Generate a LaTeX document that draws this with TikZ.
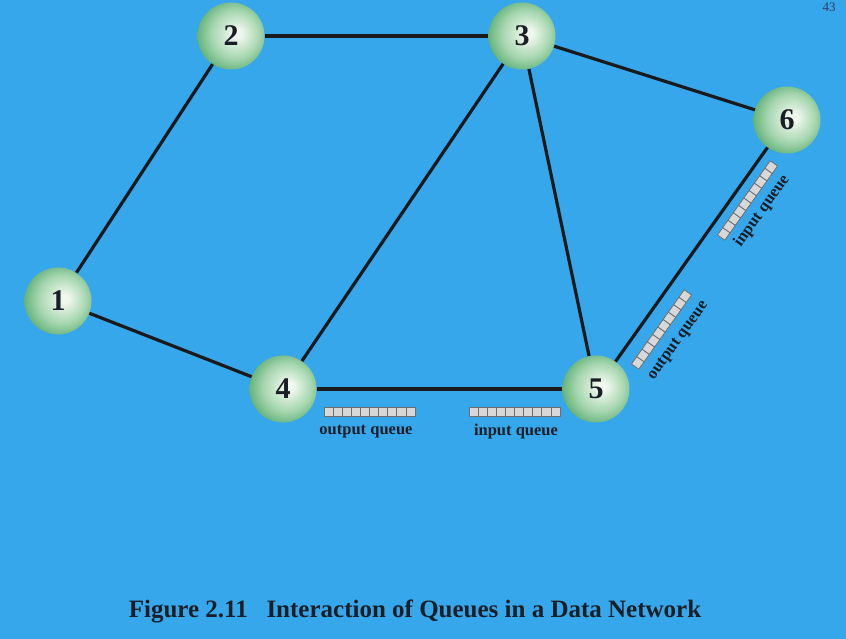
\documentclass[tikz,border=0pt]{standalone}
\usepackage{fontspec}
\setmainfont{Liberation Serif}
\definecolor{bgblue}{RGB}{55,167,236}
\definecolor{edgecol}{RGB}{26,26,28}
\definecolor{txtcol}{RGB}{26,30,38}
\definecolor{sphc}{RGB}{240,248,238}
\definecolor{sphm}{RGB}{165,214,175}
\definecolor{sphe}{RGB}{86,170,110}
\definecolor{cellfill}{RGB}{216,216,216}
\definecolor{celldraw}{RGB}{110,110,110}
\definecolor{pgnum}{RGB}{40,60,100}
\pgfdeclareradialshading{sphere}{\pgfqpoint{5bp}{2bp}}{color(0bp)=(sphc); color(3bp)=(sphc); color(18bp)=(sphm); color(30bp)=(sphe); color(50bp)=(sphe)}
\begin{document}
\begin{tikzpicture}[x=1pt,y=1pt,
  netnode/.style={circle, minimum size=67pt, inner sep=0pt, shading=sphere, text=txtcol,
    font=\fontsize{30}{30}\selectfont\bfseries},
  link/.style={draw=edgecol, line width=3.2pt},
  qcell/.style={fill=cellfill, draw=celldraw, line width=0.8pt},
  qlabel/.style={text=txtcol, font=\fontsize{16.5}{16.5}\selectfont\bfseries, inner sep=0pt},
  queue/.pic={\foreach \i in {0,...,9} {\draw[qcell] (\i*9.1-45.5,-4.5) rectangle ++(9.1,9);}}
]
\useasboundingbox (0,0) rectangle (846,639);
\fill[bgblue] (0,0) rectangle (846,639);
\node[netnode] (n1) at (58,338) {1};
\node[netnode] (n2) at (231,603) {2};
\node[netnode] (n3) at (522,603) {3};
\node[netnode] (n4) at (283,250) {4};
\node[netnode] (n5) at (596,250) {5};
\node[netnode] (n6) at (787,519) {6};
\draw[link] (n1) -- (n2);
\draw[link] (n2) -- (n3);
\draw[link] (n3) -- (n6);
\draw[link] (n3) -- (n4);
\draw[link] (n3) -- (n5);
\draw[link] (n1) -- (n4);
\draw[link] (n4) -- (n5);
\draw[link] (n5) -- (n6);
% horizontal queues
\pic at (369.5,227.5) {queue};
\pic at (514.5,227.5) {queue};
\node[qlabel] (ql1) at (366,207) {output queue};
\node[qlabel] (ql2) at (516,207) {input queue};
% diagonal queues
\pic[rotate=54.6] at (661.5,309.5) {queue};
\pic[rotate=54.6] at (747.5,438.5) {queue};
\node[qlabel, rotate=54.6] (ql3) at (678.5,298) {output queue};
\node[qlabel, rotate=54.6] (ql4) at (762,428) {input queue};
% page number and caption
\node[text=pgnum, font=\fontsize{13}{13}\selectfont, inner sep=0pt] (pg) at (829,632) {43};
\node[text=txtcol, font=\fontsize{25}{25}\selectfont\bfseries, inner sep=0pt] (cap) at (415,28) {Figure 2.11\hspace{0.5em} Interaction of Queues in a Data Network};
\end{tikzpicture}
\end{document}
